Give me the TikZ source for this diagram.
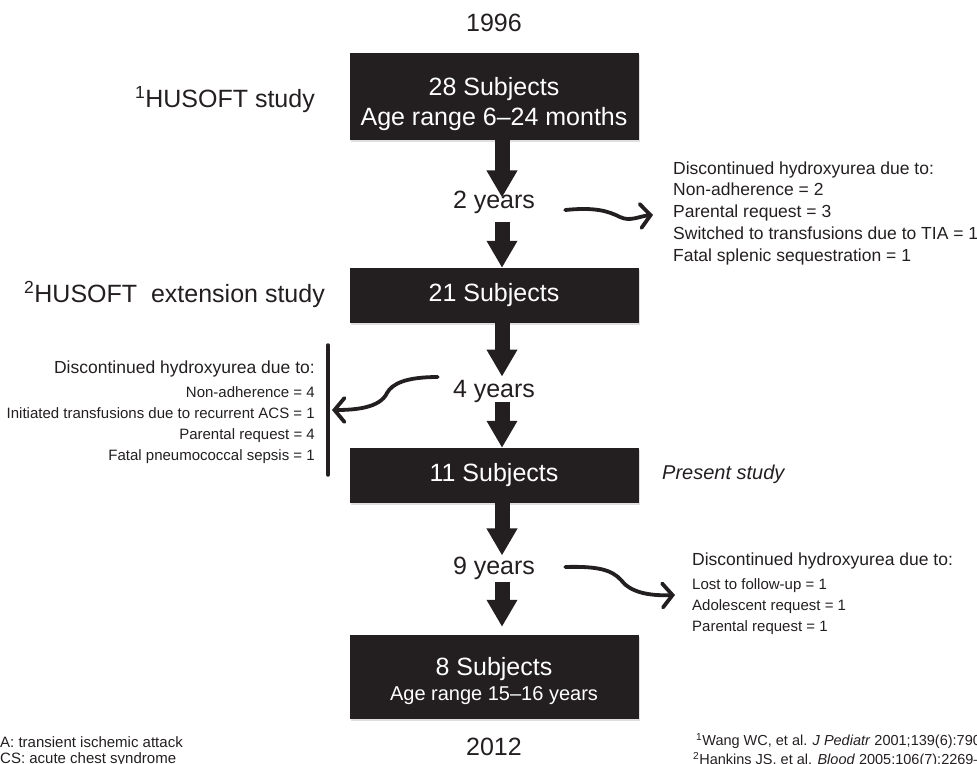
\documentclass[tikz,border=0pt]{standalone}
\usepackage{fontspec}
\setmainfont{Liberation Sans}
\usepackage{xcolor}
\definecolor{Ink}{HTML}{231F20}
\usetikzlibrary{arrows.meta,positioning,shadows,calc}

\begin{document}
\begin{tikzpicture}[
  x=1pt, y=-1pt,
  on grid,
  node distance=100pt,
  every node/.style={text=Ink,inner sep=0pt},
  cohort/.style={fill=Ink,text=white,minimum width=289pt,align=center,
    font=\fontsize{25}{30}\selectfont,
    drop shadow={opacity=0.25,shadow xshift=1.5pt,shadow yshift=-2pt}},
  yearlbl/.style={font=\fontsize{25}{30}\selectfont},
  note/.style={font=\fontsize{17.5}{21.75}\selectfont},
  itemtext/.style={font=\fontsize{15}{21}\selectfont},
  foot/.style={font=\fontsize{14.5}{18}\selectfont,anchor=west},
  flow/.style={draw=Ink,line width=15pt,-{Triangle[width=29pt,length=27pt]}},
  curl/.style={draw=Ink,line width=3.8pt,line cap=round,
    -{Straight Barb[length=10pt,width=24pt,line cap=round]}}
  ]

  \useasboundingbox (0,0) rectangle (977,763);

  \node[yearlbl]                                   (start) at (494,23) {1996};
  \node[cohort,minimum height=87pt,below=73.5pt of start] (b1)
    {\rule{0pt}{34pt}28 Subjects\\Age range 6–24 months};
  \node[yearlbl,below=105.5pt of b1]               (y2) {2 years};
  \node[cohort,minimum height=55pt,below=93.5pt of y2]    (b2) {21 Subjects};
  \node[yearlbl,below=95.5pt of b2]                (y4) {4 years};
  \node[cohort,minimum height=55pt,below=84.5pt of y4]    (b3) {11 Subjects};
  \node[yearlbl,below=92.5pt of b3]                (y9) {9 years};
  \node[cohort,minimum height=84pt,below=109pt of y9,font=\fontsize{25}{25}\selectfont] (b4)
    {\rule{0pt}{27pt}8 Subjects\\{\fontsize{20}{24}\selectfont Age range 15–16 years}};
  \node[yearlbl,below=70pt of b4]                  (stop) {2012};

  \node[yearlbl,anchor=east] (study1) at (315,100) {\textsuperscript{1}HUSOFT study};
  \node[yearlbl,anchor=east] (study2) at (325,294) {\textsuperscript{2}HUSOFT~ extension study};
  \node[font=\itshape\fontsize{20}{24}\selectfont,anchor=west] (present) at (662,474) {Present study};

  \node[note,anchor=west,align=left] (drop1) at (673,213)
    {Discontinued hydroxyurea due to:\\Non-adherence = 2\\Parental request = 3\\
     Switched to transfusions due to TIA = 1\\Fatal splenic sequestration = 1};
  \node[itemtext,anchor=east,align=right] (drop2) at (315,412)
    {{\fontsize{17.5}{21}\selectfont Discontinued hydroxyurea due to:}\\[3pt]
     Non-adherence = 4\\Initiated transfusions due to recurrent ACS = 1\\
     Parental request = 4\\Fatal pneumococcal sepsis = 1};
  \node[itemtext,anchor=west,align=left] (drop3) at (692,594)
    {{\fontsize{17.5}{21}\selectfont Discontinued hydroxyurea due to:}\\[3pt]
     Lost to follow-up = 1\\Adolescent request = 1\\Parental request = 1};

  \node[foot] (ref1)  at (696,741) {\textsuperscript{1}Wang WC, et al. \textit{J Pediatr} 2001;139(6):790};
  \node[foot] (ref2)  at (693,760) {\textsuperscript{2}Hankins JS, et al. \textit{Blood} 2005;106(7):2269–};
  \node[foot,font=\fontsize{15}{18}\selectfont] (abbr1) at (0,742) {A: transient ischemic attack};
  \node[foot,font=\fontsize{15}{18}\selectfont] (abbr2) at (0,760) {CS: acute chest syndrome};

  \draw[draw=Ink,line width=3.5pt,line cap=round]
    (328,345) coordinate (bartop) -- (328,475) coordinate (barbot);
  \coordinate (barmid) at ($(bartop)!0.5!(barbot)$);

  \draw[flow,shorten >=-7pt]               ([xshift=8pt]b1.south) -- ([xshift=8pt]y2.north);
  \draw[flow,shorten <=8pt]                ([xshift=8pt]y2.south) -- ([xshift=8pt]b2.north);
  \draw[flow,shorten >=3pt]                ([xshift=8pt]b2.south) -- ([xshift=8pt]y4.north);
  \draw[flow]                              ([xshift=8pt]y4.south) -- ([xshift=8pt]b3.north);
  \draw[flow,shorten >=1pt]                ([xshift=8pt]b3.south) -- ([xshift=8pt]y9.north);
  \draw[flow,shorten <=2pt,shorten >=8pt]  ([xshift=8pt]y9.south) -- ([xshift=8pt]b4.north);

  \draw[curl] ([xshift=30pt,yshift=-8pt]y2.east)
    .. controls (595,207) and (608,211) .. (620,217)
    .. controls (630,222) and (640,216) .. ([xshift=-20pt,yshift=-2pt]drop1.west);
  \draw[curl] ([xshift=-15pt,yshift=14pt]y4.west)
    .. controls (405,377) and (392,384) .. (387,393)
    .. controls (380,408) and (355,410) .. ([xshift=4pt]barmid);
  \draw[curl] ([xshift=30pt,yshift=1pt]y9.east)
    .. controls (598,566) and (612,570) .. (621,580)
    .. controls (630,592) and (648,596) .. ([xshift=-17pt,yshift=-1pt]drop3.west);
\end{tikzpicture}
\end{document}
